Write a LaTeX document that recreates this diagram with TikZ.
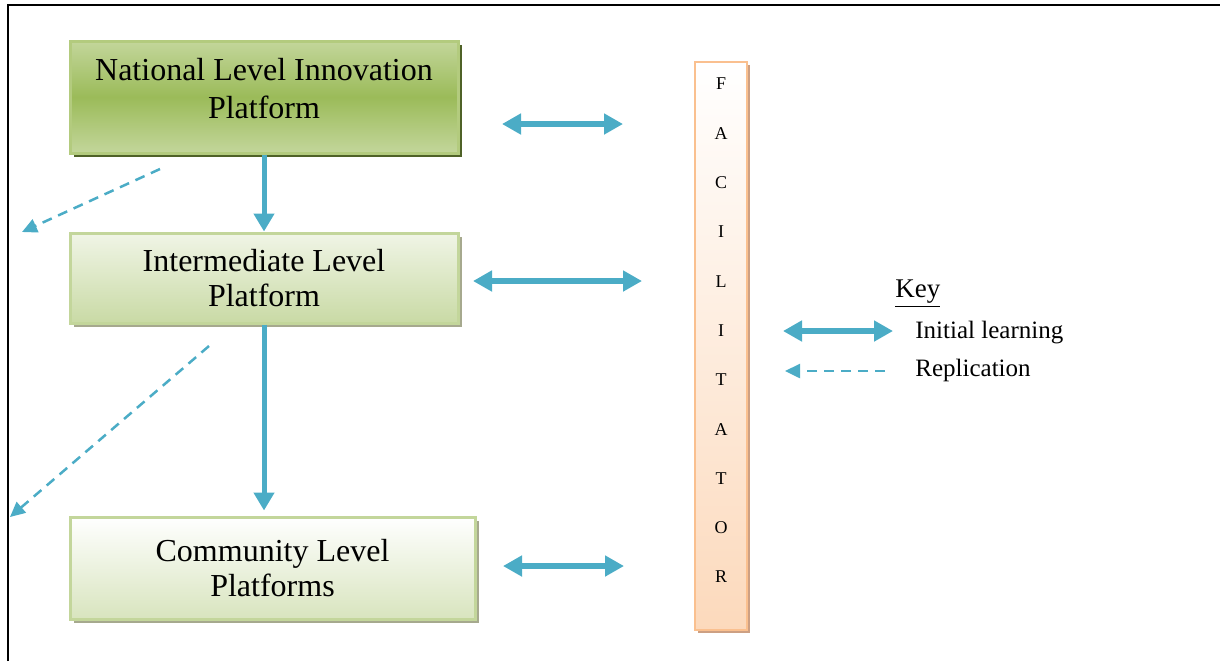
\documentclass[tikz,border=0pt]{standalone}
\usepackage{fontspec}
\setmainfont{Liberation Serif}
\usetikzlibrary{arrows.meta,shadows,positioning}
\definecolor{arrowblue}{HTML}{4BACC6}
\definecolor{greenedge}{HTML}{B3CB7E}
\definecolor{greenmid}{HTML}{9BBB59}
\definecolor{greenshadow}{HTML}{4F6228}
\definecolor{paleedge}{HTML}{C3D69B}
\definecolor{greyshadow}{HTML}{A6A98E}
\definecolor{peachedge}{HTML}{FAC08F}
\definecolor{peachshadow}{HTML}{CDA083}
\tikzset{
  platform/.style={draw, line width=1.5pt, align=center, inner sep=0pt,
    font=\fontsize{16}{17.5}\selectfont},
  learn/.style={arrowblue, line width=3pt,
    {Triangle[length=9.5pt,width=10pt]}-{Triangle[length=9.5pt,width=10pt]}},
  down/.style={arrowblue, line width=2.5pt, -{Triangle[length=9pt,width=10pt]}},
  replic/.style={arrowblue, line width=1.25pt, dash pattern=on 5pt off 3.5pt,
    -{Triangle[length=7.5pt,width=7pt]}},
  keytext/.style={anchor=west, inner sep=0pt, font=\fontsize{12.5}{14}\selectfont}
}
\begin{document}
\begin{tikzpicture}[x=0.5pt,y=-0.5pt]
  \useasboundingbox (0,0) rectangle (1220,661);
  \draw[line width=1pt] (8,661) |- (1220,5);

  \node[platform, minimum width=194pt, minimum height=56pt, text depth=9pt,
    draw=greenedge, top color=paleedge, bottom color=paleedge, middle color=greenmid,
    font=\fontsize{16}{19}\selectfont,
    drop shadow={shadow xshift=2pt, shadow yshift=-2pt, fill=greenshadow, opacity=1}]
    (natl) at (264,97) {National Level Innovation\\Platform};
  \node[platform, minimum width=194pt, minimum height=45pt,
    draw=paleedge, top color=paleedge!25!white, bottom color=paleedge!90!white,
    drop shadow={shadow xshift=2pt, shadow yshift=-2pt, fill=greyshadow, opacity=1}]
    (inter) at (264,278) {Intermediate Level\\Platform};
  \node[platform, minimum width=202.5pt, minimum height=51pt,
    draw=paleedge, top color=white, bottom color=paleedge!65!white,
    drop shadow={shadow xshift=2pt, shadow yshift=-2pt, fill=greyshadow, opacity=1}]
    (comm) at (272.5,568) {Community Level\\Platforms};

  \node[draw=peachedge, line width=1.2pt, minimum width=26pt, minimum height=284pt,
    inner sep=0pt, align=center, text depth=15.5pt,
    top color=white, bottom color=peachedge!60!white,
    font=\fontsize{9}{24.65}\selectfont,
    drop shadow={shadow xshift=1.5pt, shadow yshift=-1.5pt, fill=peachshadow, opacity=1}]
    (fac) at (721,346) {F\\A\\C\\I\\L\\I\\T\\A\\T\\O\\R};

  \coordinate (a1) at (502,124);
  \coordinate (b1) at (623,124);
  \coordinate (a2) at (473,281);
  \coordinate (b2) at (642,281);
  \coordinate (a3) at (503,566);
  \coordinate (b3) at (624,566);
  \draw[learn] (a1) -- (b1);
  \draw[learn] (a2) -- (b2);
  \draw[learn] (a3) -- (b3);

  \draw[down] (natl.south) -- (inter.north);
  \draw[down, shorten >=2.5pt] (inter.south) -- (inter.south |- comm.north);

  \coordinate (r1) at (160,169);
  \coordinate (s1) at (22,232);
  \coordinate (r2) at (209,346);
  \coordinate (s2) at (10,517);
  \draw[replic] (r1) -- (s1);
  \draw[replic] (r2) -- (s2);

  \node[keytext, font=\fontsize{13.5}{15}\selectfont] (key) at (895,294) {\underline{Key}};
  \coordinate (k1) at (783,331);
  \coordinate (k2) at (893,331);
  \draw[learn] (k1) -- (k2);
  \node[keytext] (initial) at (915,333) {Initial learning};
  \coordinate (k3) at (885,371);
  \coordinate (k4) at (785,371);
  \draw[replic] (k3) -- (k4);
  \node[keytext] (replication) at (915,370) {Replication};
\end{tikzpicture}
\end{document}
